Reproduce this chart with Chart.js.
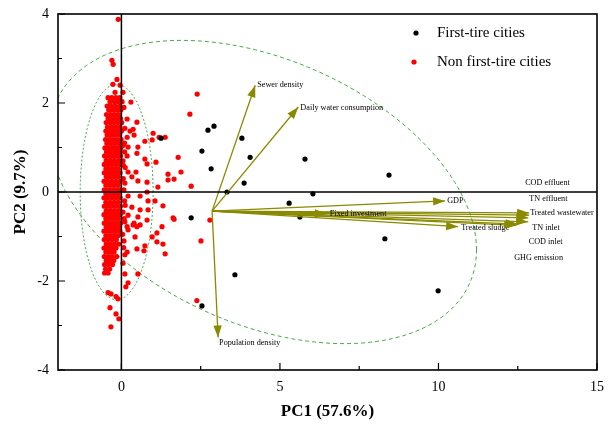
<!DOCTYPE html>
<html>
<head>
<meta charset="utf-8">
<script src="https://cdn.jsdelivr.net/npm/chart.js@4.4.0/dist/chart.umd.min.js"></script>
<style>
  html, body { margin: 0; padding: 0; background: #fff; }
  #wrap { width: 611px; height: 428px; }
</style>
</head>
<body>
<div id="wrap"><canvas id="pca" width="611" height="428"></canvas></div>
<script>
var xTicks = [0, 2.5, 5, 7.5, 10, 12.5, 15];
var yTicks = [-4, -3, -2, -1, 0, 1, 2, 3, 4];

var groupNames = ['First-tire cities', 'Non first-tire cities'];

// scores, [PC1, PC2]
var firstTier = [
  [1.25, 1.21], [2.73, 1.39], [2.92, 1.48], [3.80, 1.21], [2.54, 0.92], [4.06, 0.78],
  [2.83, 0.52], [5.79, 0.74], [3.87, 0.20], [3.33, 0.00], [6.04, -0.04], [5.29, -0.25],
  [8.44, 0.38], [2.20, -0.58], [5.63, -0.56], [2.54, -2.56], [3.58, -1.86], [8.31, -1.05],
  [9.99, -2.22]
];

var nonFirstTier = [
  // main column
  [-0.14, 2.53], [-0.27, 2.42], [-0.04, 2.40], [-0.20, 2.24], [0.05, 2.24],
  [-0.42, 2.12], [-0.30, 2.12], [-0.17, 2.12], [-0.05, 2.12],
  [-0.36, 2.03], [-0.22, 2.03], [-0.10, 2.03], [0.02, 2.03],
  [-0.45, 1.93], [-0.33, 1.93], [-0.20, 1.93], [-0.06, 1.93],
  [-0.40, 1.84], [-0.27, 1.84], [-0.14, 1.84], [-0.02, 1.84],
  [-0.47, 1.74], [-0.35, 1.74], [-0.22, 1.74], [-0.09, 1.74],
  [-0.42, 1.65], [-0.30, 1.65], [-0.16, 1.65], [-0.03, 1.65],
  [-0.48, 1.56], [-0.36, 1.56], [-0.24, 1.56], [-0.11, 1.56], [0.01, 1.56],
  [-0.44, 1.46], [-0.31, 1.46], [-0.18, 1.46], [-0.05, 1.46],
  [-0.49, 1.37], [-0.37, 1.37], [-0.25, 1.37], [-0.12, 1.37], [0.00, 1.37],
  [-0.45, 1.28], [-0.32, 1.28], [-0.19, 1.28], [-0.06, 1.28],
  [-0.50, 1.18], [-0.38, 1.18], [-0.26, 1.18], [-0.13, 1.18], [-0.01, 1.18],
  [-0.46, 1.09], [-0.33, 1.09], [-0.20, 1.09], [-0.07, 1.09],
  [-0.52, 0.99], [-0.40, 0.99], [-0.27, 0.99], [-0.14, 0.99], [-0.02, 0.99],
  [-0.47, 0.90], [-0.35, 0.90], [-0.21, 0.90], [-0.08, 0.90],
  [-0.53, 0.81], [-0.41, 0.81], [-0.28, 0.81], [-0.15, 0.81], [-0.03, 0.81],
  [-0.48, 0.71], [-0.35, 0.71], [-0.22, 0.71], [-0.09, 0.71],
  [-0.54, 0.62], [-0.42, 0.62], [-0.29, 0.62], [-0.16, 0.62], [-0.03, 0.62],
  [-0.49, 0.52], [-0.36, 0.52], [-0.23, 0.52], [-0.10, 0.52],
  [-0.54, 0.43], [-0.42, 0.43], [-0.30, 0.43], [-0.17, 0.43], [-0.04, 0.43],
  [-0.48, 0.34], [-0.36, 0.34], [-0.23, 0.34], [-0.10, 0.34],
  [-0.55, 0.24], [-0.43, 0.24], [-0.30, 0.24], [-0.17, 0.24], [-0.04, 0.24],
  [-0.49, 0.15], [-0.36, 0.15], [-0.23, 0.15], [-0.10, 0.15],
  [-0.54, 0.05], [-0.42, 0.05], [-0.29, 0.05], [-0.16, 0.05], [-0.03, 0.05],
  [-0.49, -0.04], [-0.36, -0.04], [-0.23, -0.04], [-0.10, -0.04],
  [-0.55, -0.13], [-0.43, -0.13], [-0.30, -0.13], [-0.17, -0.13], [-0.04, -0.13],
  [-0.49, -0.23], [-0.36, -0.23], [-0.23, -0.23], [-0.10, -0.23],
  [-0.54, -0.32], [-0.42, -0.32], [-0.29, -0.32], [-0.16, -0.32], [-0.03, -0.32],
  [-0.48, -0.42], [-0.35, -0.42], [-0.22, -0.42], [-0.09, -0.42],
  [-0.55, -0.51], [-0.43, -0.51], [-0.30, -0.51], [-0.17, -0.51], [-0.04, -0.51],
  [-0.49, -0.60], [-0.36, -0.60], [-0.23, -0.60], [-0.10, -0.60],
  [-0.54, -0.70], [-0.42, -0.70], [-0.29, -0.70], [-0.16, -0.70], [-0.03, -0.70],
  [-0.48, -0.79], [-0.35, -0.79], [-0.22, -0.79], [-0.09, -0.79],
  [-0.55, -0.88], [-0.43, -0.88], [-0.30, -0.88], [-0.17, -0.88], [-0.05, -0.88],
  [-0.49, -0.98], [-0.36, -0.98], [-0.23, -0.98], [-0.10, -0.98],
  [-0.54, -1.07], [-0.42, -1.07], [-0.29, -1.07], [-0.16, -1.07],
  [-0.48, -1.17], [-0.35, -1.17], [-0.22, -1.17], [-0.09, -1.17],
  [-0.55, -1.26], [-0.43, -1.26], [-0.30, -1.26], [-0.17, -1.26],
  [-0.49, -1.35], [-0.36, -1.35], [-0.23, -1.35],
  [-0.54, -1.45], [-0.42, -1.45], [-0.29, -1.45], [-0.15, -1.45],
  [-0.48, -1.54], [-0.36, -1.54], [-0.24, -1.54],
  [-0.53, -1.63], [-0.41, -1.63], [-0.28, -1.63],
  [-0.50, -1.73], [-0.37, -1.73],
  [-0.53, -1.82], [-0.42, -1.82],
  // scattered
  [-0.10, 3.88], [-0.30, 2.96], [-0.26, 2.87], [2.39, 2.20], [2.16, 1.75], [0.30, 2.02],
  [0.18, 1.64], [0.49, 1.57], [0.11, 1.43], [0.37, 1.41], [0.27, 1.37], [0.40, 1.28],
  [1.00, 1.32], [1.19, 1.23], [1.38, 1.23], [0.74, 1.14], [0.97, 1.17], [0.18, 1.23],
  [0.52, 1.01], [0.21, 1.01], [0.49, 0.87], [0.18, 0.81], [0.74, 0.74], [1.09, 0.67],
  [0.81, 0.63], [1.79, 0.78], [0.46, 0.45], [0.21, 0.45], [1.47, 0.40], [1.88, 0.45],
  [1.66, 0.29], [1.47, 0.27], [2.20, 0.13], [1.15, 0.11], [0.81, 0.22], [0.52, 0.25],
  [0.33, 0.34], [0.11, 0.20], [0.81, 0.00], [0.21, -0.09], [0.59, -0.09], [0.84, -0.20],
  [1.06, -0.20], [1.31, -0.31], [0.33, -0.34], [0.59, -0.40], [0.84, -0.40], [0.21, -0.52],
  [0.52, -0.56], [0.11, -0.67], [0.40, -0.70], [0.81, -0.63], [1.66, -0.61], [1.28, -0.78],
  [0.18, -0.78], [0.49, -0.78], [0.37, -0.74], [0.59, -0.74], [0.21, -0.85], [0.43, -1.01],
  [0.97, -1.01], [1.12, -1.12], [1.31, -1.17], [2.51, -1.10], [0.74, -1.21], [0.71, -1.32],
  [0.49, -1.28], [0.18, -1.35], [0.11, -1.41], [1.38, -1.39], [1.63, -0.58], [2.79, -0.63],
  [1.12, -0.92], [0.11, -1.84], [0.52, -1.84], [0.21, -2.04], [0.14, -2.13], [-0.42, -2.26],
  [-0.33, -2.29], [-0.17, -2.35], [-0.11, -2.40], [-0.36, -2.60], [-0.17, -2.74], [-0.08, -2.85],
  [-0.33, -3.03], [2.38, -2.44],
  [0.08, 1.90], [0.10, 1.10], [0.06, 0.60], [0.12, -0.30], [0.08, -1.10], [0.05, -1.60],
  [0.06, 1.05], [0.10, 0.90], [0.05, 0.70], [0.12, 0.55], [0.06, 0.30], [0.08, 0.05],
  [0.10, -0.20], [0.05, -0.45], [0.09, -0.60], [0.04, -0.95], [0.07, -1.25]
];

// loading vectors
var variableNames = ['Sewer density', 'Daily water consumption', 'GDP', 'Fixed investment',
  'Treated sludge', 'COD effluent', 'TN effluent', 'Treated wastewater', 'TN inlet',
  'COD inlet', 'GHG emission', 'Population density'];
var loadingOrigin = [2.86, -0.43];
var loadingX = [4.22, 5.58, 10.21, 6.48, 10.62, 12.86, 12.83, 12.86, 12.83, 12.50, 12.45, 3.05];
var loadingY = [2.40, 1.91, -0.20, -0.49, -0.78, -0.52, -0.58, -0.47, -0.67, -0.72, -0.75, -3.27];

// 95% ellipses: centre and conjugate semi-diameters
var ellipseCentre = [[4.47, 0.00], [-0.15, 0.00]];
var ellipseU = [[6.73, -1.30], [1.15, 0]];
var ellipseV = [[0, 3.15], [0, 2.42]];

var serif = "'Liberation Serif', 'Times New Roman', serif";
var olive = '#8a8a00';
// pixel offset of each variable label from its arrow tip
var labelOffsets = [[2, 0], [2, 1], [2, 0], [3, 0], [3, 1], [-4, -32], [1, -19], [1, 0],
  [4, 6], [11, 18], [-2, 32], [1, 5]];

var datasets = [
  {
    label: groupNames[0],
    data: firstTier.map(function (p) { return {x: p[0], y: p[1]}; }),
    backgroundColor: '#000', borderWidth: 0, pointRadius: 2.6, order: 1
  },
  {
    label: groupNames[1],
    data: nonFirstTier.map(function (p) { return {x: p[0], y: p[1]}; }),
    backgroundColor: '#ff0000', borderWidth: 0, pointRadius: 2.6, order: 2
  }
];
variableNames.forEach(function (name, i) {
  datasets.push({
    type: 'line', label: name, isLoading: true,
    data: [{x: loadingOrigin[0], y: loadingOrigin[1]}, {x: loadingX[i], y: loadingY[i]}],
    borderColor: olive, borderWidth: 1.3, pointRadius: 0, showLine: true, fill: false, order: 0
  });
});

var biplotPlugin = {
  id: 'biplot',
  beforeDatasetsDraw: function (chart) {
    var ctx = chart.ctx, a = chart.chartArea, xs = chart.scales.x, ys = chart.scales.y;
    ctx.save();
    ctx.beginPath();
    ctx.rect(a.left, a.top, a.right - a.left, a.bottom - a.top);
    ctx.clip();
    ctx.strokeStyle = '#48a848';
    ctx.lineWidth = 1;
    for (var k = 0; k < ellipseCentre.length; k++) {
      ctx.setLineDash(k === 0 ? [4, 3] : [2, 2]);
      ctx.beginPath();
      for (var s = 0; s <= 180; s++) {
        var t = s / 180 * Math.PI * 2;
        var dx = ellipseCentre[k][0] + ellipseU[k][0] * Math.cos(t) + ellipseV[k][0] * Math.sin(t);
        var dy = ellipseCentre[k][1] + ellipseU[k][1] * Math.cos(t) + ellipseV[k][1] * Math.sin(t);
        var px = xs.getPixelForValue(dx), py = ys.getPixelForValue(dy);
        if (s === 0) ctx.moveTo(px, py); else ctx.lineTo(px, py);
      }
      ctx.stroke();
    }
    ctx.restore();
  },
  afterDatasetsDraw: function (chart) {
    var ctx = chart.ctx, a = chart.chartArea, xs = chart.scales.x, ys = chart.scales.y;
    ctx.save();
    // zero lines
    ctx.strokeStyle = '#000';
    ctx.lineWidth = 1.5;
    ctx.beginPath();
    var y0 = ys.getPixelForValue(0), x0 = xs.getPixelForValue(0);
    ctx.moveTo(a.left, y0); ctx.lineTo(a.right, y0);
    ctx.moveTo(x0, a.top); ctx.lineTo(x0, a.bottom);
    ctx.stroke();

    // arrow heads and labels
    var li = 0;
    chart.data.datasets.forEach(function (ds, i) {
      if (!ds.isLoading) return;
      var pts = chart.getDatasetMeta(i).data;
      var p0 = pts[0], p1 = pts[1];
      var ang = Math.atan2(p1.y - p0.y, p1.x - p0.x);
      ctx.save();
      ctx.translate(p1.x, p1.y);
      ctx.rotate(ang);
      ctx.fillStyle = olive;
      ctx.beginPath();
      ctx.moveTo(0, 0); ctx.lineTo(-12, -4.2); ctx.lineTo(-12, 4.2); ctx.closePath();
      ctx.fill();
      ctx.restore();
      var off = labelOffsets[li++];
      ctx.fillStyle = '#000';
      ctx.font = '8.2px ' + serif;
      ctx.textAlign = 'left';
      ctx.textBaseline = 'middle';
      ctx.fillText(ds.label, p1.x + off[0], p1.y + off[1]);
    });

    // legend
    ctx.fillStyle = '#fff';
    ctx.fillRect(404, 16, 152, 58);
    var rows = [33, 62], marks = [416, 414];
    [0, 1].forEach(function (i) {
      var ds = chart.data.datasets[i];
      ctx.fillStyle = ds.backgroundColor;
      ctx.beginPath();
      ctx.arc(marks[i], rows[i], 2.6, 0, Math.PI * 2);
      ctx.fill();
      ctx.fillStyle = '#000';
      ctx.font = '15px ' + serif;
      ctx.textAlign = 'left';
      ctx.textBaseline = 'middle';
      ctx.fillText(ds.label, 437, rows[i]);
    });

    // frame and inward ticks
    ctx.lineWidth = 1.6;
    ctx.strokeStyle = '#000';
    ctx.strokeRect(a.left, a.top, a.right - a.left, a.bottom - a.top);
    ctx.lineWidth = 1.2;
    ctx.beginPath();
    xTicks.forEach(function (v) {
      var px = xs.getPixelForValue(v), len = v % 5 === 0 ? 7 : 4;
      ctx.moveTo(px, a.bottom); ctx.lineTo(px, a.bottom - len);
    });
    yTicks.forEach(function (v) {
      var py = ys.getPixelForValue(v), len = v % 2 === 0 ? 7 : 4;
      ctx.moveTo(a.left, py); ctx.lineTo(a.left + len, py);
    });
    ctx.stroke();
    ctx.restore();
  }
};

var tickFont = {family: serif, size: 14};
var titleFont = {family: serif, size: 17, weight: 'bold'};

new Chart(document.getElementById('pca').getContext('2d'), {
  type: 'scatter',
  data: {datasets: datasets},
  options: {
    responsive: false,
    animation: false,
    devicePixelRatio: 1,
    layout: {padding: {top: 14, right: 14, left: 0, bottom: 0}},
    plugins: {legend: {display: false}, tooltip: {enabled: false}},
    scales: {
      x: {
        type: 'linear', min: -2, max: 15,
        afterBuildTicks: function (s) { s.ticks = xTicks.map(function (v) { return {value: v}; }); },
        afterFit: function (s) { s.height = 58; s.paddingLeft = 0; s.paddingRight = 0; },
        grid: {display: false, drawTicks: false},
        border: {display: false},
        ticks: {
          autoSkip: false, maxRotation: 0, padding: 9, color: '#000', font: tickFont,
          callback: function (v) { return v % 5 === 0 ? String(v) : ''; }
        },
        title: {display: true, text: 'PC1 (57.6%)', color: '#000', font: titleFont, padding: {top: 0, bottom: 6}}
      },
      y: {
        type: 'linear', min: -4, max: 4,
        afterBuildTicks: function (s) { s.ticks = yTicks.map(function (v) { return {value: v}; }); },
        afterFit: function (s) { s.width = 58; s.paddingTop = 0; s.paddingBottom = 0; },
        grid: {display: false, drawTicks: false},
        border: {display: false},
        ticks: {
          autoSkip: false, padding: 9, color: '#000', font: tickFont,
          callback: function (v) { return v % 2 === 0 ? String(v) : ''; }
        },
        title: {display: true, text: 'PC2 (9.7%)', color: '#000', font: titleFont, padding: {top: 10, bottom: 0}}
      }
    }
  },
  plugins: [biplotPlugin]
});
</script>
</body>
</html>
